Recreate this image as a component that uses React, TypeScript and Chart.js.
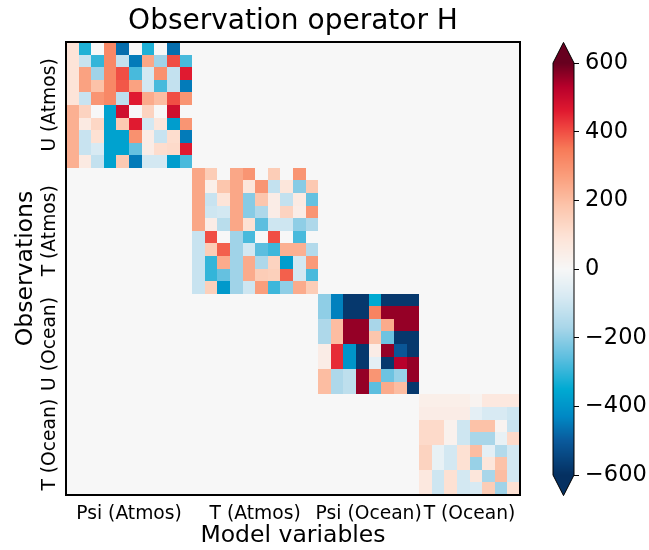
import { useEffect, useRef } from 'react';
import { Chart, registerables } from 'chart.js';

Chart.register(...registerables);

const FONT = "'DejaVu Sans', 'Liberation Sans', sans-serif";

// Variable groups: columns are model variables, rows are observations
const modelLabels = ['Psi (Atmos)', 'T (Atmos)', 'Psi (Ocean)', 'T (Ocean)'];
const obsLabels = ['U (Atmos)', 'T (Atmos)', 'U (Ocean)', 'T (Ocean)'];
const blockSizes = [10, 10, 8, 8];
const colorbarTicks = [-600, -400, -200, 0, 200, 400, 600];

// Diagonal blocks of the observation operator H (row = observation, col = model variable)
const hUAtmos = [
  [90, -320, 0, 320, -470, 0, -320, 0, -470, 0],
  [90, -110, -300, 320, -120, -450, 250, -180, 400, -280],
  [90, 260, -180, 320, 400, -280, -90, 300, -120, 460],
  [90, 260, 190, 320, 390, 260, -90, -280, -120, -450],
  [90, -110, 290, 320, -130, 460, 240, 200, 400, 290],
  [230, 140, 0, -370, 490, 0, 140, 0, 490, 0],
  [230, 60, 130, -370, 170, 460, -90, 80, -380, 290],
  [230, -110, 100, -370, -370, 300, 50, -110, 110, -450],
  [230, -110, -80, -370, -370, -250, 50, 110, 120, 460],
  [230, 60, -120, -370, 170, -450, -90, -90, -380, -280],
];

const hTAtmos = [
  [250, 160, 0, 250, 290, 0, 160, 0, 290, 0],
  [250, 40, 180, 250, 80, 290, -120, 80, -210, 170],
  [250, -110, 90, 250, -210, 180, 50, -120, 60, -250],
  [250, -100, -90, 250, -210, -160, 50, 140, 50, 290],
  [250, 50, -140, 250, 100, -260, -100, -100, -200, -160],
  [-110, 400, 0, -180, -280, 0, 400, 0, -280, 0],
  [-110, 160, 380, -180, -90, -260, -290, 230, 230, -150],
  [-110, -300, 240, -180, 240, -160, 140, -380, -90, 280],
  [-110, -300, -250, -180, 240, 160, 150, 380, -90, -280],
  [-110, 150, -390, -180, -100, 270, -290, -200, 240, 160],
];

const hUOcean = [
  [-200, -440, -580, -580, -350, -580, -580, -580],
  [-200, -440, -580, -580, 330, 560, 560, 560],
  [-160, 200, 560, 560, -170, 240, 560, 560],
  [-160, 200, 560, 560, 180, -240, -580, -580],
  [50, 440, -400, -580, 50, 560, -510, -580],
  [50, 440, -400, -580, -50, -580, 530, 560],
  [200, -160, -130, 560, 290, -240, -190, 560],
  [200, -160, -130, 560, -260, 240, 200, -580],
];

const hTOcean = [
  [40, 40, 40, 40, 20, 70, 70, 70],
  [50, 50, 50, 50, -50, -80, -80, -100],
  [120, 120, 30, -100, 190, 190, 20, -110],
  [120, 120, 30, -100, -170, -170, -40, 120],
  [140, -40, -90, 100, 200, -50, -150, -90],
  [140, -40, -90, 100, -190, 80, 190, -90],
  [70, -100, 100, -90, 80, -170, 200, -90],
  [70, -100, 100, -90, -80, 160, -180, 100],
];

const blocks = [hUAtmos, hTAtmos, hUOcean, hTOcean];

// Diverging colour map (value -> colour), clipped at the ends
const cmapStops: [number, string][] = [
  [-600, '#053061'],
  [-500, '#0a5a9c'],
  [-430, '#0088c4'],
  [-350, '#00aad2'],
  [-260, '#5cbedf'],
  [-170, '#a9d6e9'],
  [-80, '#d8eaf3'],
  [0, '#f7f7f7'],
  [90, '#fde4d8'],
  [180, '#fcc6ad'],
  [270, '#fa9e7c'],
  [350, '#f77a58'],
  [410, '#ef4540'],
  [460, '#e01a30'],
  [530, '#b8002b'],
  [600, '#67001f'],
];

const hexToRgb = (h: string) => [1, 3, 5].map((i) => parseInt(h.slice(i, i + 2), 16));
const stopRgb = cmapStops.map(([v, c]) => [v, hexToRgb(c)] as [number, number[]]);

function colorFor(value: number): string {
  const v = Math.max(stopRgb[0][0], Math.min(stopRgb[stopRgb.length - 1][0], value));
  for (let i = 1; i < stopRgb.length; i++) {
    const [v1, c1] = stopRgb[i];
    if (v <= v1) {
      const [v0, c0] = stopRgb[i - 1];
      const t = (v - v0) / (v1 - v0);
      const c = c0.map((a, k) => Math.round(a + (c1[k] - a) * t));
      return `rgb(${c[0]},${c[1]},${c[2]})`;
    }
  }
  const last = stopRgb[stopRgb.length - 1][1];
  return `rgb(${last[0]},${last[1]},${last[2]})`;
}

// Full block-diagonal matrix assembled from the blocks
const N = blockSizes.reduce((a, b) => a + b, 0);
const blockStarts = blockSizes.map((_, i) => blockSizes.slice(0, i).reduce((a, b) => a + b, 0));
const blockCenters = blockSizes.map((s, i) => blockStarts[i] + s / 2);
const matrix: number[][] = Array.from({ length: N }, () => new Array(N).fill(0));
blocks.forEach((blk, b) => {
  const o = blockStarts[b];
  blk.forEach((row, i) => row.forEach((val, j) => { matrix[o + i][o + j] = val; }));
});

const heatmapPlugin = {
  id: 'heatmap',
  beforeDatasetsDraw(chart: any) {
    const { ctx, scales } = chart;
    const xs = scales.x;
    const ys = scales.y;
    ctx.save();
    for (let r = 0; r < N; r++) {
      const ya = Math.round(ys.getPixelForValue(r));
      const yb = Math.round(ys.getPixelForValue(r + 1));
      for (let c = 0; c < N; c++) {
        const xa = Math.round(xs.getPixelForValue(c));
        const xb = Math.round(xs.getPixelForValue(c + 1));
        ctx.fillStyle = colorFor(matrix[r][c]);
        ctx.fillRect(xa, Math.min(ya, yb), xb - xa, Math.abs(yb - ya));
      }
    }
    ctx.restore();
  },
  afterDraw(chart: any) {
    const { ctx, chartArea: a } = chart;
    ctx.save();
    ctx.strokeStyle = '#000';
    ctx.lineWidth = 2;
    ctx.strokeRect(a.left, a.top, a.right - a.left, a.bottom - a.top);
    ctx.restore();
  },
};

const colorbarPlugin = {
  id: 'colorbar',
  beforeDatasetsDraw(chart: any) {
    const { ctx, chartArea: a, scales } = chart;
    const s = scales.y;
    ctx.save();
    for (let py = Math.floor(a.top); py < Math.ceil(a.bottom); py++) {
      ctx.fillStyle = colorFor(s.getValueForPixel(py + 0.5));
      ctx.fillRect(a.left, py, a.right - a.left, 1);
    }
    const ext = 0.05 * (a.bottom - a.top);
    const mid = (a.left + a.right) / 2;
    ctx.fillStyle = colorFor(s.max);
    ctx.beginPath();
    ctx.moveTo(a.left, a.top);
    ctx.lineTo(mid, a.top - ext);
    ctx.lineTo(a.right, a.top);
    ctx.closePath();
    ctx.fill();
    ctx.fillStyle = colorFor(s.min);
    ctx.beginPath();
    ctx.moveTo(a.left, a.bottom);
    ctx.lineTo(mid, a.bottom + ext);
    ctx.lineTo(a.right, a.bottom);
    ctx.closePath();
    ctx.fill();
    ctx.strokeStyle = '#000';
    ctx.lineWidth = 1;
    ctx.beginPath();
    ctx.moveTo(a.left, a.top);
    ctx.lineTo(mid, a.top - ext);
    ctx.lineTo(a.right, a.top);
    ctx.lineTo(a.right, a.bottom);
    ctx.lineTo(mid, a.bottom + ext);
    ctx.lineTo(a.left, a.bottom);
    ctx.closePath();
    ctx.stroke();
    ctx.restore();
  },
};

const TICK_SIZE = 18.7;
const PLOT_LEFT = 66;
const Y_TICK_CENTER = 58;

export default function App() {
  const mainRef = useRef<HTMLCanvasElement>(null);
  const cbRef = useRef<HTMLCanvasElement>(null);

  useEffect(() => {
    const mctx = document.createElement('canvas').getContext('2d')!;
    mctx.font = `${TICK_SIZE}px ${FONT}`;
    const widest = Math.max(...obsLabels.map((l) => mctx.measureText(l).width));
    const yTickPad = PLOT_LEFT - Y_TICK_CENTER - widest / 2;

    const main = new Chart(mainRef.current!, {
      type: 'scatter',
      data: { datasets: [{ data: [] }] },
      plugins: [heatmapPlugin],
      options: {
        animation: false,
        responsive: false,
        events: [],
        layout: { padding: { left: 0, right: 129, top: 0, bottom: 0 } },
        plugins: {
          legend: { display: false },
          tooltip: { enabled: false },
          title: {
            display: true,
            text: 'Observation operator H',
            color: '#000',
            fullSize: false,
            font: { family: FONT, size: 28, weight: 'normal' },
            padding: { top: 5, bottom: 3.4 },
          },
        },
        scales: {
          x: {
            type: 'linear',
            position: 'bottom',
            min: 0,
            max: N,
            grid: { display: false },
            border: { display: false },
            afterBuildTicks: (scale: any) => {
              scale.ticks = blockCenters.map((v) => ({ value: v }));
            },
            afterFit: (scale: any) => { scale.height = 55; },
            ticks: {
              autoSkip: false,
              minRotation: 0,
              maxRotation: 0,
              padding: 0,
              color: '#000',
              font: { family: FONT, size: TICK_SIZE },
              callback: (_v: any, i: number) => modelLabels[i],
            },
            title: {
              display: true,
              text: 'Model variables',
              color: '#000',
              font: { family: FONT, size: 23.5 },
              padding: { top: 0, bottom: 0 },
            },
          },
          y: {
            type: 'linear',
            position: 'left',
            reverse: true,
            min: 0,
            max: N,
            grid: { display: false },
            border: { display: false },
            afterBuildTicks: (scale: any) => {
              scale.ticks = blockCenters.map((v) => ({ value: v }));
            },
            afterFit: (scale: any) => { scale.width = PLOT_LEFT; },
            ticks: {
              autoSkip: false,
              minRotation: 90,
              maxRotation: 90,
              crossAlign: 'center',
              padding: yTickPad,
              color: '#000',
              font: { family: FONT, size: TICK_SIZE },
              callback: (_v: any, i: number) => obsLabels[i],
            },
            title: {
              display: true,
              text: 'Observations',
              color: '#000',
              font: { family: FONT, size: 23.5 },
              padding: { top: 12, bottom: 0 },
            },
          },
        },
      } as any,
    });

    const cb = new Chart(cbRef.current!, {
      type: 'scatter',
      data: { datasets: [{ data: [] }] },
      plugins: [colorbarPlugin],
      options: {
        animation: false,
        responsive: false,
        events: [],
        layout: { padding: { left: 553, right: 0, top: 63, bottom: 75 } },
        plugins: { legend: { display: false }, tooltip: { enabled: false } },
        scales: {
          x: { display: false },
          y: {
            type: 'linear',
            position: 'right',
            min: colorbarTicks[0],
            max: colorbarTicks[colorbarTicks.length - 1],
            afterBuildTicks: (scale: any) => {
              scale.ticks = colorbarTicks.map((v) => ({ value: v }));
            },
            afterFit: (scale: any) => { scale.width = 75; },
            grid: {
              display: true,
              drawOnChartArea: false,
              drawTicks: true,
              tickLength: 5,
              color: '#000',
              lineWidth: 1,
            },
            border: { display: false },
            ticks: {
              padding: 6,
              color: '#000',
              font: { family: FONT, size: 22.5 },
              callback: (v: any) => (v < 0 ? '\u2212' + Math.abs(v) : String(v)),
            },
          },
        },
      } as any,
    });

    return () => {
      main.destroy();
      cb.destroy();
    };
  }, []);

  return (
    <div style={{ position: 'fixed', left: 0, top: 0, width: 649, height: 550, background: '#fff' }}>
      <canvas ref={mainRef} width={649} height={550} style={{ position: 'absolute', left: 0, top: 0 }} />
      <canvas ref={cbRef} width={649} height={550} style={{ position: 'absolute', left: 0, top: 0 }} />
    </div>
  );
}
